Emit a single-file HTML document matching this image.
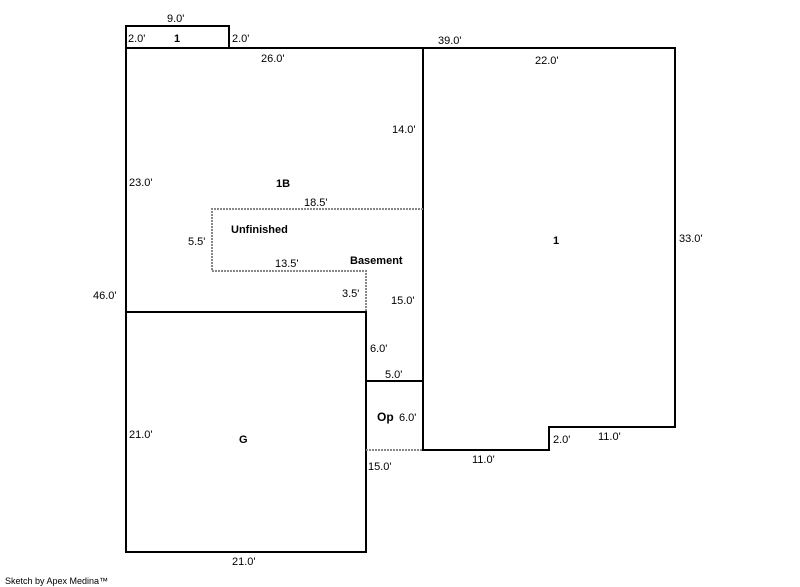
<!DOCTYPE html>
<html><head><meta charset="utf-8"><style>
html,body{margin:0;padding:0;background:#fff;}
svg{display:block;}
text{font-family:"Liberation Sans",sans-serif;font-size:11px;fill:#000;}
.b{font-weight:bold;}
</style></head><body>
<svg width="800" height="587" viewBox="0 0 800 587">
<g stroke="#000" stroke-width="2" fill="none" stroke-linecap="square">
<polyline points="126,48 126,26 229,26 229,48"/>
<line x1="126" y1="48" x2="675" y2="48"/>
<line x1="126" y1="48" x2="126" y2="552"/>
<polyline points="423,48 675,48 675,427 549,427 549,450 423,450 423,48"/>
<polyline points="126,312 366,312 366,552 126,552"/>
<line x1="366" y1="381" x2="423" y2="381"/>
<line x1="366" y1="312" x2="366" y2="450"/>
</g>
<g stroke="#888" stroke-width="2" fill="none" stroke-dasharray="2,1">
<polyline points="423,209 212,209 212,271 366,271 366,312"/>
<line x1="366" y1="450" x2="423" y2="450"/>
</g>
<text x="167" y="22">9.0'</text>
<text x="128" y="42">2.0'</text>
<text x="174" y="42" class="b">1</text>
<text x="232" y="42">2.0'</text>
<text x="438" y="44">39.0'</text>
<text x="261" y="62">26.0'</text>
<text x="535" y="64">22.0'</text>
<text x="392" y="133">14.0'</text>
<text x="129" y="186">23.0'</text>
<text x="276" y="187" class="b">1B</text>
<text x="304" y="206">18.5'</text>
<text x="231" y="233" class="b">Unfinished</text>
<text x="188" y="245">5.5'</text>
<text x="553" y="244" class="b">1</text>
<text x="679" y="242">33.0'</text>
<text x="275" y="267">13.5'</text>
<text x="350" y="264" class="b">Basement</text>
<text x="93" y="299">46.0'</text>
<text x="342" y="297">3.5'</text>
<text x="391" y="304">15.0'</text>
<text x="370" y="352">6.0'</text>
<text x="385" y="378">5.0'</text>
<text x="377" y="421" class="b" style="font-size:12px">Op</text>
<text x="399" y="421">6.0'</text>
<text x="129" y="438">21.0'</text>
<text x="239" y="443" class="b">G</text>
<text x="598" y="440">11.0'</text>
<text x="553" y="443">2.0'</text>
<text x="472" y="463">11.0'</text>
<text x="368" y="470">15.0'</text>
<text x="232" y="565">21.0'</text>
<text x="5" y="584" style="font-size:9px">Sketch by Apex Medina™</text>
</svg>
</body></html>
